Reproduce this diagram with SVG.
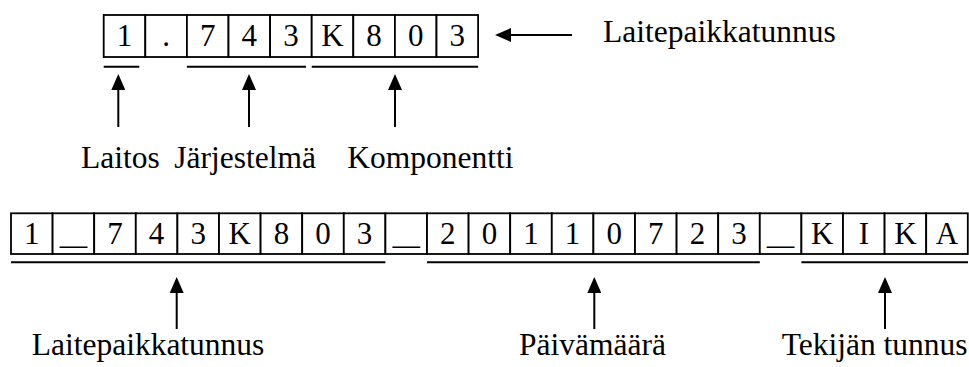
<svg xmlns="http://www.w3.org/2000/svg" width="969" height="367" viewBox="0 0 969 367">
<defs>
<style>
.cell{fill:#fff;stroke:#000;stroke-width:1.8}
.ch{font-family:"Liberation Serif","Times New Roman",serif;font-size:31px;text-anchor:middle;fill:#000}
.lbl{font-family:"Liberation Serif","Times New Roman",serif;font-size:31.5px;fill:#000}
.ul{stroke:#000;stroke-width:2}
.arr{stroke:#000;stroke-width:2;fill:none;marker-end:url(#ah)}
</style>
<marker id="ah" viewBox="0 0 16 14" refX="13" refY="7" markerWidth="16" markerHeight="14" markerUnits="userSpaceOnUse" orient="auto">
<path d="M0,0 L16,7 L0,14 z" fill="#000"/>
</marker>
</defs>
<rect width="969" height="367" fill="#fff"/>

<g id="code-top">
<rect class="cell" x="103.7" y="15" width="41.6" height="42"/>
<rect class="cell" x="145.3" y="15" width="41.6" height="42"/>
<rect class="cell" x="186.9" y="15" width="41.6" height="42"/>
<rect class="cell" x="228.5" y="15" width="41.6" height="42"/>
<rect class="cell" x="270.1" y="15" width="41.6" height="42"/>
<rect class="cell" x="311.7" y="15" width="41.6" height="42"/>
<rect class="cell" x="353.3" y="15" width="41.6" height="42"/>
<rect class="cell" x="394.9" y="15" width="41.6" height="42"/>
<rect class="cell" x="436.5" y="15" width="41.6" height="42"/>
<text class="ch" x="124.5" y="46">1</text>
<text class="ch" x="166.1" y="46">.</text>
<text class="ch" x="207.7" y="46">7</text>
<text class="ch" x="249.3" y="46">4</text>
<text class="ch" x="290.9" y="46">3</text>
<text class="ch" x="332.5" y="46">K</text>
<text class="ch" x="374.1" y="46">8</text>
<text class="ch" x="415.7" y="46">0</text>
<text class="ch" x="457.3" y="46">3</text>
<line class="ul" x1="103.7" y1="66.7" x2="139.3" y2="66.7"/>
<line class="ul" x1="186.9" y1="66.7" x2="306" y2="66.7"/>
<line class="ul" x1="311.7" y1="66.7" x2="478.1" y2="66.7"/>
</g>

<g id="code-bottom">
<rect class="cell" x="11" y="213.3" width="41.6" height="40.7"/>
<rect class="cell" x="52.6" y="213.3" width="41.6" height="40.7"/>
<rect class="cell" x="94.2" y="213.3" width="41.6" height="40.7"/>
<rect class="cell" x="135.8" y="213.3" width="41.6" height="40.7"/>
<rect class="cell" x="177.4" y="213.3" width="41.6" height="40.7"/>
<rect class="cell" x="219" y="213.3" width="41.6" height="40.7"/>
<rect class="cell" x="260.6" y="213.3" width="41.6" height="40.7"/>
<rect class="cell" x="302.2" y="213.3" width="41.6" height="40.7"/>
<rect class="cell" x="343.8" y="213.3" width="41.6" height="40.7"/>
<rect class="cell" x="385.4" y="213.3" width="41.6" height="40.7"/>
<rect class="cell" x="427" y="213.3" width="41.6" height="40.7"/>
<rect class="cell" x="468.6" y="213.3" width="41.6" height="40.7"/>
<rect class="cell" x="510.2" y="213.3" width="41.6" height="40.7"/>
<rect class="cell" x="551.8" y="213.3" width="41.6" height="40.7"/>
<rect class="cell" x="593.4" y="213.3" width="41.6" height="40.7"/>
<rect class="cell" x="635" y="213.3" width="41.6" height="40.7"/>
<rect class="cell" x="676.6" y="213.3" width="41.6" height="40.7"/>
<rect class="cell" x="718.2" y="213.3" width="41.6" height="40.7"/>
<rect class="cell" x="759.8" y="213.3" width="41.6" height="40.7"/>
<rect class="cell" x="801.4" y="213.3" width="41.6" height="40.7"/>
<rect class="cell" x="843" y="213.3" width="41.6" height="40.7"/>
<rect class="cell" x="884.6" y="213.3" width="41.6" height="40.7"/>
<rect class="cell" x="926.2" y="213.3" width="41.6" height="40.7"/>
<text class="ch" x="31.8" y="244">1</text>
<text class="ch" x="73.4" y="244" textLength="27" lengthAdjust="spacingAndGlyphs">_</text>
<text class="ch" x="115" y="244">7</text>
<text class="ch" x="156.6" y="244">4</text>
<text class="ch" x="198.2" y="244">3</text>
<text class="ch" x="239.8" y="244">K</text>
<text class="ch" x="281.4" y="244">8</text>
<text class="ch" x="323" y="244">0</text>
<text class="ch" x="364.6" y="244">3</text>
<text class="ch" x="406.2" y="244" textLength="27" lengthAdjust="spacingAndGlyphs">_</text>
<text class="ch" x="447.8" y="244">2</text>
<text class="ch" x="489.4" y="244">0</text>
<text class="ch" x="531" y="244">1</text>
<text class="ch" x="572.6" y="244">1</text>
<text class="ch" x="614.2" y="244">0</text>
<text class="ch" x="655.8" y="244">7</text>
<text class="ch" x="697.4" y="244">2</text>
<text class="ch" x="739" y="244">3</text>
<text class="ch" x="780.6" y="244" textLength="27" lengthAdjust="spacingAndGlyphs">_</text>
<text class="ch" x="822.2" y="244">K</text>
<text class="ch" x="863.8" y="244">I</text>
<text class="ch" x="905.4" y="244">K</text>
<text class="ch" x="947" y="244">A</text>
<line class="ul" x1="11" y1="262.3" x2="385.4" y2="262.3"/>
<line class="ul" x1="427" y1="262.3" x2="759.8" y2="262.3"/>
<line class="ul" x1="801.4" y1="262.3" x2="968" y2="262.3"/>
</g>

<g id="connectors">
<line class="arr" x1="572" y1="35" x2="498" y2="35"/>
<line class="arr" x1="118.3" y1="127" x2="118.3" y2="77"/>
<line class="arr" x1="249" y1="127" x2="249" y2="77"/>
<line class="arr" x1="395" y1="127" x2="395" y2="77"/>
<line class="arr" x1="176.7" y1="329" x2="176.7" y2="280"/>
<line class="arr" x1="594.3" y1="329" x2="594.3" y2="280"/>
<line class="arr" x1="885" y1="329" x2="885" y2="280"/>
</g>

<g id="label-laitepaikkatunnus-top"><text class="lbl" x="603" y="42">Laitepaikkatunnus</text></g>
<g id="label-laitos"><text class="lbl" x="81" y="168">Laitos</text></g>
<g id="label-jarjestelma"><text class="lbl" x="174.3" y="168">Järjestelmä</text></g>
<g id="label-komponentti"><text class="lbl" x="347.3" y="168">Komponentti</text></g>
<g id="label-laitepaikkatunnus-bottom"><text class="lbl" x="31.7" y="355">Laitepaikkatunnus</text></g>
<g id="label-paivamaara"><text class="lbl" x="519" y="355">Päivämäärä</text></g>
<g id="label-tekija"><text class="lbl" x="781.7" y="355">Tekijän tunnus</text></g>
</svg>
